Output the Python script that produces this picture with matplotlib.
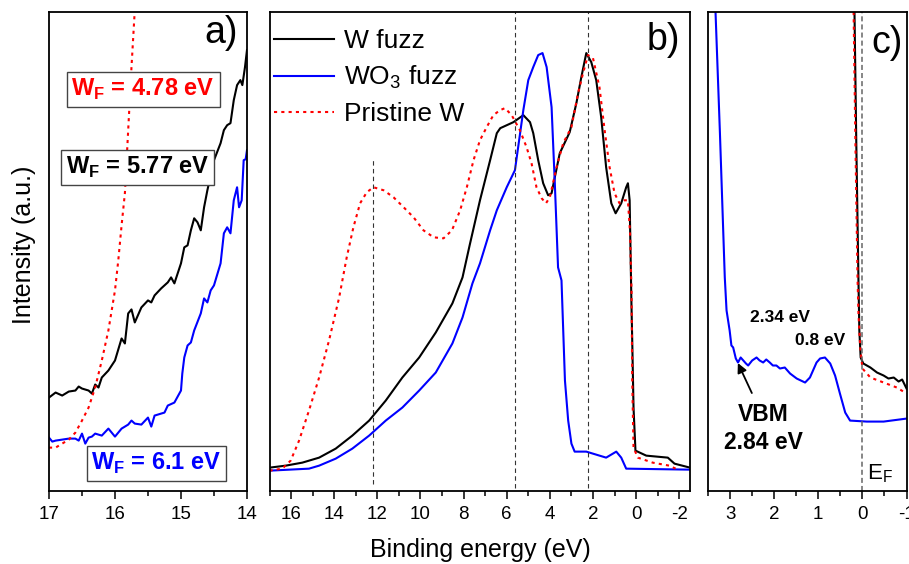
import matplotlib
matplotlib.use('Agg')
import matplotlib.pyplot as plt
from matplotlib.ticker import MultipleLocator

plt.rcParams['font.family'] = ['Liberation Sans', 'DejaVu Sans']
plt.rcParams['mathtext.fontset'] = 'custom'
plt.rcParams['mathtext.rm'] = 'Liberation Sans'
plt.rcParams['mathtext.bf'] = 'Liberation Sans:bold'
plt.rcParams['axes.unicode_minus'] = False

# ---- panel a) : secondary electron cut-off ----
a_w_e = [17, 16.9, 16.8, 16.7, 16.6, 16.55, 16.5, 16.4, 16.35, 16.3, 16.25, 16.2, 16.1, 16.0,
         15.9, 15.85, 15.8, 15.75, 15.7, 15.6, 15.5, 15.45, 15.4, 15.3, 15.2, 15.15, 15.1, 15.0,
         14.95, 14.9, 14.85, 14.8, 14.75, 14.7, 14.65, 14.6, 14.5, 14.4, 14.35, 14.3, 14.25,
         14.2, 14.15, 14.1, 14.07, 14.03, 14.0]
a_w_i = [93, 98, 95, 99, 100, 104, 102, 100, 97, 106, 103, 113, 120, 130,
         152, 147, 177, 181, 168, 183, 190, 188, 195, 202, 208, 213, 207, 227,
         243, 245, 260, 272, 268, 260, 283, 300, 330, 347, 360, 365, 367,
         390, 405, 410, 405, 423, 440]

a_wo3_e = [17, 16.95, 16.9, 16.8, 16.7, 16.6, 16.55, 16.5, 16.45, 16.4, 16.35, 16.3, 16.2, 16.1,
           16.0, 15.9, 15.8, 15.75, 15.7, 15.6, 15.5, 15.45, 15.4, 15.3, 15.25, 15.2, 15.1, 15.0,
           14.98, 14.95, 14.9, 14.85, 14.8, 14.7, 14.65, 14.6, 14.55, 14.5, 14.4, 14.35, 14.3,
           14.25, 14.2, 14.15, 14.12, 14.08, 14.05, 14.02, 14.0]
a_wo3_i = [53, 49, 50, 51, 52, 52, 50, 57, 47, 53, 54, 57, 55, 62,
           54, 62, 66, 70, 67, 66, 73, 64, 75, 77, 78, 85, 88, 100,
           117, 133, 145, 148, 160, 177, 192, 188, 200, 205, 227, 257, 263,
           257, 290, 303, 283, 290, 330, 331, 340]

a_pr_e = [17, 16.9, 16.8, 16.7, 16.6, 16.5, 16.4, 16.3, 16.2, 16.1, 16.0, 15.95, 15.9, 15.85,
          15.8, 15.75, 15.7]
a_pr_i = [43, 43, 47, 51, 58, 70, 83, 103, 130, 160, 200, 230, 265, 297, 360, 423, 480]

# ---- panel b) : full valence band ----
b_w_e = [17, 16.25, 15.48, 14.7, 13.93, 13.16, 12.38, 11.61, 10.84, 10.06, 9.29, 8.52,
         8.05, 7.72, 7.24, 6.77, 6.46, 6.3, 5.69, 5.23, 4.92, 4.77, 4.54, 4.31, 4.08, 3.92,
         3.77, 3.54, 3.08, 2.77, 2.54, 2.31, 2.08, 1.85, 1.62, 1.39, 1.15, 0.95, 0.69, 0.46,
         0.38, 0.3, 0.22, 0.18, 0.12, 0.03, -0.47, -1.47, -1.78, -2.5]
b_w_i = [23, 25, 28, 33, 42, 55, 70, 90, 113, 133, 158, 187,
         213, 245, 290, 330, 357, 362, 368, 375, 368, 357, 330, 307, 295, 297,
         313, 337, 358, 387, 413, 437, 428, 410, 373, 323, 287, 277, 287, 303,
         307, 290, 190, 150, 83, 40, 35, 33, 27, 23]

b_wo3_e = [17, 15.17, 14.7, 13.93, 13.16, 12.38, 11.61, 10.84, 10.06, 9.29, 8.52, 8.05,
           7.59, 7.24, 6.77, 6.46, 6.0, 5.62, 5.47, 5.23, 5.0, 4.77, 4.54, 4.34, 4.15,
           3.92, 3.77, 3.62, 3.46, 3.3, 3.15, 3.0, 2.85, 2.31, 1.39, 0.92, 0.69, 0.46, -2.5]
b_wo3_i = [20, 22, 25, 32, 42, 55, 70, 83, 100, 118, 147, 173,
           207, 227, 260, 280, 303, 320, 343, 380, 410, 423, 435, 437, 423,
           383, 307, 223, 210, 110, 70, 47, 39, 39, 33, 39, 33, 22, 21]

b_pr_e = [17, 16.41, 16.02, 15.63, 15.17, 14.7, 14.24, 13.77, 13.42, 13.11, 12.8, 12.49,
          12.18, 11.71, 11.25, 10.78, 10.32, 9.86, 9.39, 8.93, 8.54, 8.16, 7.85, 7.54, 7.24,
          6.93, 6.62, 6.31, 6.08, 5.77, 5.39, 5.08, 4.85, 4.62, 4.38, 4.18, 4.0, 3.69, 3.38,
          3.0, 2.69, 2.46, 2.23, 2.0, 1.7, 1.46, 1.23, 1.0, 0.77, 0.54, 0.38, 0.28, 0.21,
          0.18, 0.12, -0.08, -0.77, -1.54, -1.93]
b_pr_i = [20, 22, 30, 50, 80, 113, 150, 193, 233, 263, 287, 298,
          303, 300, 293, 283, 273, 260, 253, 252, 260, 280, 303, 330, 350,
          363, 375, 380, 382, 375, 360, 343, 327, 303, 292, 287, 293, 323, 347,
          363, 397, 417, 435, 432, 403, 360, 323, 297, 287, 290, 290, 257, 197,
          110, 43, 33, 28, 25, 21]

b_vlines = [12.2, 5.6, 2.25]
b_vline_top = [330, 478, 478]
b_vline_bot = [7, 3, 3]

# ---- panel c) : near the Fermi level ----
c_w_e = [0.18, 0.14, 0.09, 0.07, 0.04, -0.02, -0.18, -0.33, -0.48, -0.59, -0.71, -0.82, -0.9, -1.0]
c_w_i = [478, 350, 210, 160, 133, 127, 123, 118, 115, 112, 113, 109, 111, 102]

c_wo3_e = [3.33, 3.23, 3.12, 3.08, 3.01, 2.97, 2.93, 2.87, 2.82, 2.76, 2.70, 2.64, 2.59, 2.50,
           2.40, 2.33, 2.25, 2.18, 2.10, 2.03, 1.95, 1.87, 1.76, 1.64, 1.49, 1.30, 1.19, 1.04,
           0.96, 0.85, 0.73, 0.62, 0.51, 0.39, 0.28, -0.10, -0.48, -1.0]
c_wo3_i = [478, 357, 213, 180, 160, 145, 143, 132, 128, 133, 130, 127, 125, 130,
           133, 130, 128, 131, 128, 125, 125, 122, 123, 117, 112, 108, 113, 128,
           132, 133, 127, 115, 97, 78, 70, 69, 69, 72]

c_pr_e = [0.20, 0.16, 0.11, 0.09, 0.05, 0.0, -0.18, -0.48, -0.78, -1.0]
c_pr_i = [478, 350, 210, 177, 143, 122, 113, 108, 103, 97]

ymax = 478
red_dots = (0, (1.5, 2.0))

fig = plt.figure(figsize=(9.09, 5.64), dpi=100)
ax_a = fig.add_axes([0.0539, 0.130, 0.2178, 0.8487])
ax_b = fig.add_axes([0.2965, 0.130, 0.4626, 0.8487])
ax_c = fig.add_axes([0.7789, 0.130, 0.2184, 0.8487])

for ax in (ax_a, ax_b, ax_c):
    ax.set_ylim(0, ymax)
    ax.set_yticks([])
    for s in ax.spines.values():
        s.set_linewidth(1.3)
    ax.tick_params(axis='x', which='major', direction='out', length=6, width=1.1,
                   labelsize=13.5, pad=5)
    ax.tick_params(axis='x', which='minor', direction='out', length=3.5, width=1.1)

# a)
ax_a.plot(a_w_e, a_w_i, color='black', lw=1.5)
ax_a.plot(a_wo3_e, a_wo3_i, color='blue', lw=1.5)
ax_a.plot(a_pr_e, a_pr_i, color='red', lw=1.5, ls=red_dots)
ax_a.set_xlim(17, 14)
ax_a.xaxis.set_major_locator(MultipleLocator(1))
ax_a.xaxis.set_minor_locator(MultipleLocator(0.5))
box = dict(boxstyle='square,pad=0.2', facecolor='white', edgecolor='#444444', lw=1)
ax_a.text(0.475, 0.838, r'W$_\mathbf{F}$ = 4.78 eV', color='red', fontsize=17,
          fontweight='bold', ha='center', va='center', transform=ax_a.transAxes, bbox=box)
ax_a.text(0.447, 0.675, r'W$_\mathbf{F}$ = 5.77 eV', color='black', fontsize=17,
          fontweight='bold', ha='center', va='center', transform=ax_a.transAxes, bbox=box)
ax_a.text(0.543, 0.057, r'W$_\mathbf{F}$ = 6.1 eV', color='blue', fontsize=17,
          fontweight='bold', ha='center', va='center', transform=ax_a.transAxes, bbox=box)
ax_a.text(0.955, 0.994, 'a)', fontsize=27, ha='right', va='top', transform=ax_a.transAxes)

# b)
ax_b.plot(b_w_e, b_w_i, color='black', lw=1.5, label='W fuzz')
ax_b.plot(b_wo3_e, b_wo3_i, color='blue', lw=1.5, label='WO$_3$ fuzz')
ax_b.plot(b_pr_e, b_pr_i, color='red', lw=1.5, ls=red_dots, label='Pristine W')
for xv, yt, yb in zip(b_vlines, b_vline_top, b_vline_bot):
    ax_b.plot([xv, xv], [yb, yt], color='#333333', lw=0.8, ls=(0, (4, 3)))
ax_b.set_xlim(17, -2.5)
ax_b.xaxis.set_major_locator(MultipleLocator(2))
ax_b.xaxis.set_minor_locator(MultipleLocator(1))
ax_b.legend(loc='upper left', bbox_to_anchor=(0.01, 0.965), frameon=False, fontsize=19,
            borderaxespad=0, borderpad=0, handlelength=2.3, handletextpad=0.35,
            labelspacing=0.42)
ax_b.text(0.976, 0.979, 'b)', fontsize=27, ha='right', va='top', transform=ax_b.transAxes)

# c)
ax_c.plot(c_w_e, c_w_i, color='black', lw=1.5)
ax_c.plot(c_wo3_e, c_wo3_i, color='blue', lw=1.5)
ax_c.plot(c_pr_e, c_pr_i, color='red', lw=1.5, ls=red_dots)
ax_c.axvline(0, color='#666666', lw=1.1, ls=(0, (3.3, 2)))
ax_c.set_xlim(3.5, -1)
ax_c.xaxis.set_major_locator(MultipleLocator(1))
ax_c.xaxis.set_minor_locator(MultipleLocator(0.5))
ax_c.text(0.363, 0.361, '2.34 eV', fontsize=12.5, fontweight='bold', ha='center',
          va='center', transform=ax_c.transAxes)
ax_c.text(0.564, 0.313, '0.8 eV', fontsize=12.5, fontweight='bold', ha='center',
          va='center', transform=ax_c.transAxes)
ax_c.text(0.277, 0.130, 'VBM\n2.84 eV', fontsize=16.5, fontweight='bold', ha='center',
          va='center', linespacing=1.25, transform=ax_c.transAxes)
ax_c.annotate('', xy=(2.85, 130), xytext=(2.48, 95),
              arrowprops=dict(arrowstyle='-|>', color='black', lw=1.3, mutation_scale=14))
ax_c.text(0.80, 0.012, r'E$_\mathrm{F}$', fontsize=16, ha='left', va='bottom',
          transform=ax_c.transAxes)
ax_c.text(0.982, 0.973, 'c)', fontsize=27, ha='right', va='top', transform=ax_c.transAxes)

fig.text(480 / 909, 1 - 550 / 564, 'Binding energy (eV)', fontsize=18, ha='center', va='center')
fig.text(24 / 909, 1 - 245 / 564, 'Intensity (a.u.)', fontsize=18, rotation=90,
         ha='center', va='center')

fig.savefig('out.png', dpi=100)
